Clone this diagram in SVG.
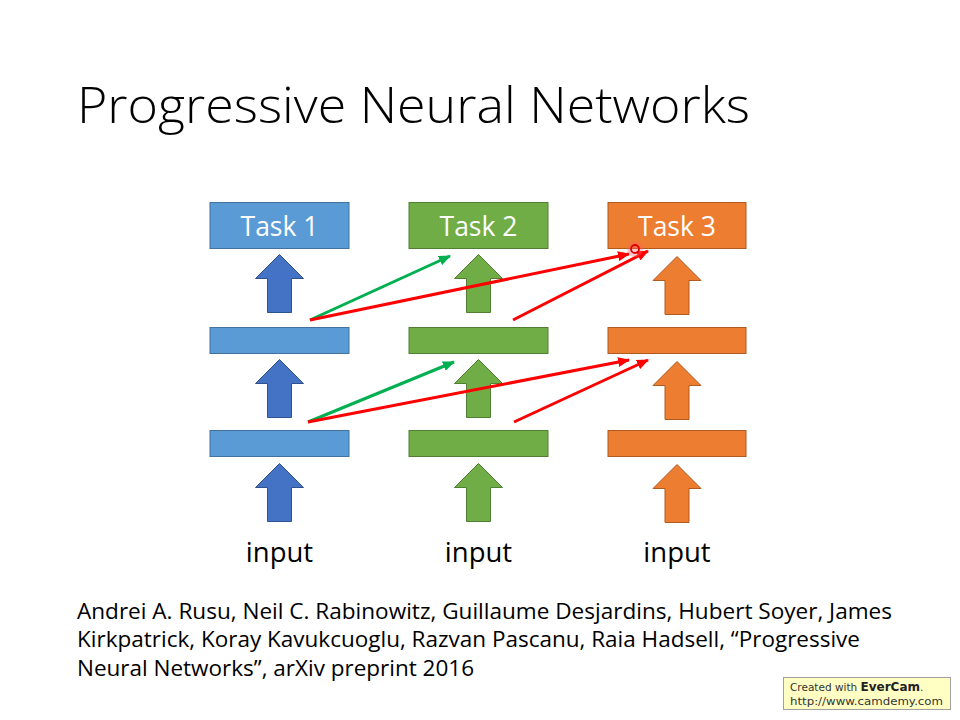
<svg xmlns="http://www.w3.org/2000/svg" width="960" height="720" viewBox="0 0 960 720">
<defs>
<style>
.title{font-family:"Open Sans","Liberation Sans",sans-serif;font-weight:300;font-size:49px;fill:#000}
.task{font-family:"Open Sans","Liberation Sans",sans-serif;font-size:26.5px;fill:#fff;text-anchor:middle}
.inp{font-family:"Open Sans","Liberation Sans",sans-serif;font-size:27.5px;fill:#000;text-anchor:middle}
.cite{font-family:"Open Sans","Liberation Sans",sans-serif;font-size:22px;fill:#000}
.blueBox{fill:#5B9BD5;stroke:#41719C;stroke-width:1}
.blueArr{fill:#4472C4;stroke:#2F528F;stroke-width:1}
.green{fill:#70AD47;stroke:#507E32;stroke-width:1}
.orange{fill:#ED7D31;stroke:#AE5A21;stroke-width:1}
.gline{stroke:#00B050;stroke-width:3;fill:none;marker-end:url(#ag)}
.rline{stroke:#FF0000;stroke-width:3;fill:none;marker-end:url(#ar)}
.wm{font-family:"DejaVu Sans","Liberation Sans",sans-serif;font-size:10.5px;fill:#333}
</style>
<marker id="ag" viewBox="0 0 12 10" refX="11" refY="5" markerWidth="12" markerHeight="10" markerUnits="userSpaceOnUse" orient="auto"><path d="M0,0 L12,5 L0,10 Z" fill="#00B050"/></marker>
<marker id="ar" viewBox="0 0 12 10" refX="11" refY="5" markerWidth="12" markerHeight="10" markerUnits="userSpaceOnUse" orient="auto"><path d="M0,0 L12,5 L0,10 Z" fill="#FF0000"/></marker>
<path id="up" d="M0,0 L24,24 L12,24 L12,58 L-12,58 L-12,24 L-24,24 Z"/>
</defs>
<rect width="960" height="720" fill="#fff"/>
<text class="title" x="77" y="123" textLength="673" lengthAdjust="spacingAndGlyphs">Progressive Neural Networks</text>

<g id="task1"><rect class="blueBox" x="210" y="202.5" width="139" height="46"/><text class="task" x="279.5" y="235.5">Task 1</text></g>
<g id="task2"><rect class="green" x="409" y="202.5" width="139" height="46"/><text class="task" x="478.5" y="235.5">Task 2</text></g>
<g id="task3"><rect class="orange" x="608" y="202.5" width="138" height="46"/><text class="task" x="677" y="235.5">Task 3</text></g>

<g id="col1-h2"><rect class="blueBox" x="210" y="327.5" width="139" height="26"/></g>
<g id="col2-h2"><rect class="green" x="409" y="327.5" width="139" height="26"/></g>
<g id="col3-h2"><rect class="orange" x="608" y="327.5" width="138" height="26"/></g>
<g id="col1-h1"><rect class="blueBox" x="210" y="430.5" width="139" height="26"/></g>
<g id="col2-h1"><rect class="green" x="409" y="430.5" width="139" height="26"/></g>
<g id="col3-h1"><rect class="orange" x="608" y="430.5" width="138" height="26"/></g>

<g id="up-arrows">
<use href="#up" class="blueArr" transform="translate(279.5,254.5)"/>
<use href="#up" class="green" transform="translate(478.5,254.5)"/>
<use href="#up" class="orange" transform="translate(677,256.5)"/>
<use href="#up" class="blueArr" transform="translate(279.5,359.5)"/>
<use href="#up" class="green" transform="translate(478.5,359.5)"/>
<use href="#up" class="orange" transform="translate(677,361.5)"/>
<use href="#up" class="blueArr" transform="translate(279.5,463.5)"/>
<use href="#up" class="green" transform="translate(478.5,463.5)"/>
<use href="#up" class="orange" transform="translate(677,464.5)"/>
</g>

<g id="connectors">
<line class="gline" x1="310" y1="320" x2="450" y2="256"/>
<line class="rline" x1="310" y1="320" x2="629" y2="254"/>
<line class="rline" x1="513" y1="320" x2="648" y2="251"/>
<line class="gline" x1="308" y1="422" x2="454" y2="362"/>
<line class="rline" x1="308" y1="422" x2="629" y2="360"/>
<line class="rline" x1="514" y1="422" x2="648" y2="360"/>
</g>

<g id="cursor">
<circle cx="635" cy="249" r="8" fill="#FF6060" opacity="0.35"/>
<circle cx="635" cy="249" r="4" fill="none" stroke="#E00000" stroke-width="1.8"/>
</g>

<g id="inputs">
<text class="inp" x="279.5" y="562">input</text>
<text class="inp" x="478.5" y="562">input</text>
<text class="inp" x="677" y="562">input</text>
</g>

<g id="citation">
<text class="cite" x="77" y="619" textLength="815" lengthAdjust="spacingAndGlyphs">Andrei A. Rusu, Neil C. Rabinowitz, Guillaume Desjardins, Hubert Soyer, James</text>
<text class="cite" x="77" y="647" textLength="783" lengthAdjust="spacingAndGlyphs">Kirkpatrick, Koray Kavukcuoglu, Razvan Pascanu, Raia Hadsell, “Progressive</text>
<text class="cite" x="77" y="676" textLength="397" lengthAdjust="spacingAndGlyphs">Neural Networks”, arXiv preprint 2016</text>
</g>

<g id="watermark">
<rect x="783.5" y="677.5" width="167" height="32" fill="#FFFFC4" stroke="#A0A0A0" stroke-width="1"/>
<text class="wm" x="790" y="691">Created with <tspan font-weight="bold" font-size="12px" fill="#222">EverCam</tspan>.</text>
<text class="wm" x="790" y="705" textLength="153" lengthAdjust="spacingAndGlyphs">http://www.camdemy.com</text>
</g>
</svg>
